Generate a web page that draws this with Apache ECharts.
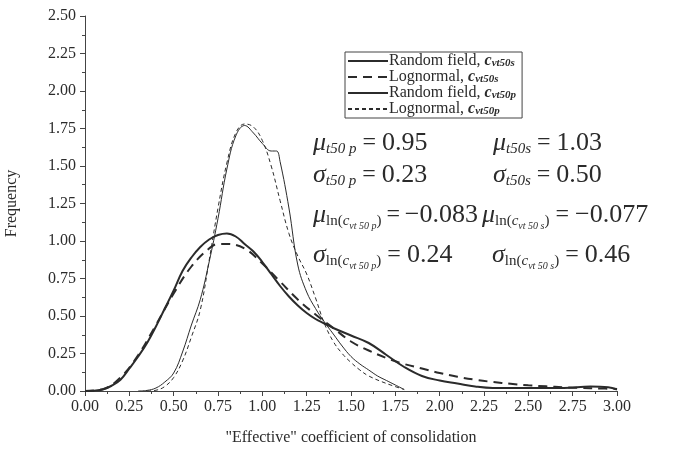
<!DOCTYPE html>
<html>
<head>
<meta charset="utf-8">
<script src="https://cdn.jsdelivr.net/npm/echarts@6/dist/echarts.min.js"></script>
<style>
  html, body { margin: 0; padding: 0; background: #fff; }
  #main { width: 673px; height: 452px; }
</style>
</head>
<body>
<div id="main"></div>
<script>
// values, [x, frequency]
var rfS = [[0, 0], [0.05, 0.002], [0.1, 0.01], [0.15, 0.035], [0.2, 0.075], [0.25, 0.15], [0.3, 0.23],
    [0.35, 0.32], [0.4, 0.43], [0.45, 0.55], [0.5, 0.67], [0.55, 0.8], [0.6, 0.89], [0.65, 0.96],
    [0.7, 1.01], [0.75, 1.04], [0.8, 1.05], [0.85, 1.03], [0.9, 0.98], [0.95, 0.93], [1.0, 0.86],
    [1.05, 0.78], [1.1, 0.7], [1.15, 0.63], [1.2, 0.57], [1.25, 0.52], [1.3, 0.48], [1.35, 0.45],
    [1.4, 0.42], [1.5, 0.37], [1.6, 0.32], [1.7, 0.24], [1.8, 0.16], [1.9, 0.1], [2.0, 0.07],
    [2.1, 0.05], [2.2, 0.03], [2.3, 0.02], [2.5, 0.02], [2.7, 0.02], [2.85, 0.03], [2.95, 0.025], [3.0, 0.01]];
var lnS = [[0, 0], [0.1, 0.012], [0.2, 0.09], [0.3, 0.24], [0.4, 0.44], [0.5, 0.65], [0.6, 0.83],
    [0.7, 0.95], [0.75, 0.98], [0.8, 0.98], [0.9, 0.95], [1.0, 0.85], [1.1, 0.73], [1.2, 0.61],
    [1.3, 0.51], [1.4, 0.42], [1.5, 0.33], [1.6, 0.27], [1.7, 0.22], [1.8, 0.18], [1.9, 0.15],
    [2.0, 0.12], [2.1, 0.095], [2.2, 0.075], [2.3, 0.06], [2.4, 0.048], [2.5, 0.038], [2.6, 0.031],
    [2.7, 0.025], [2.8, 0.02], [2.9, 0.017], [3.0, 0.014]];
var rfP = [[0.3, 0], [0.35, 0.004], [0.4, 0.02], [0.45, 0.06], [0.5, 0.12], [0.55, 0.26], [0.6, 0.44],
    [0.65, 0.61], [0.7, 0.86], [0.75, 1.15], [0.8, 1.48], [0.85, 1.7], [0.9, 1.77], [0.95, 1.72],
    [1.0, 1.65], [1.05, 1.6], [1.08, 1.6], [1.1, 1.53], [1.15, 1.22], [1.2, 0.84], [1.25, 0.66],
    [1.3, 0.55], [1.35, 0.46], [1.4, 0.38], [1.45, 0.3], [1.5, 0.23], [1.55, 0.18], [1.6, 0.14],
    [1.65, 0.1], [1.7, 0.07], [1.75, 0.04], [1.8, 0.01]];
var lnP = [[0.35, 0], [0.4, 0.005], [0.45, 0.03], [0.5, 0.09], [0.55, 0.2], [0.6, 0.36], [0.65, 0.54],
    [0.7, 0.87], [0.75, 1.22], [0.8, 1.52], [0.85, 1.72], [0.9, 1.78], [0.95, 1.76], [1.0, 1.67],
    [1.05, 1.5], [1.1, 1.27], [1.15, 1.05], [1.2, 0.9], [1.25, 0.78], [1.3, 0.62], [1.35, 0.45],
    [1.4, 0.33], [1.45, 0.25], [1.5, 0.19], [1.55, 0.14], [1.6, 0.1], [1.7, 0.05], [1.8, 0.01]];

var seriesNames = ['rfS', 'lnS', 'rfP', 'lnP'];
var legendLabels = {
    rfS: ['Random field, ', 'vt50s'],
    lnS: ['Lognormal, ', 'vt50s'],
    rfP: ['Random field, ', 'vt50p'],
    lnP: ['Lognormal, ', 'vt50p']
};

var serif = 'Liberation Serif';
var ink = '#2b2b2b';

var chart = echarts.init(document.getElementById('main'));

function lineSeries(name, data, width, dash) {
    return {
        name: name,
        type: 'line',
        data: data,
        smooth: 0.4,
        showSymbol: false,
        symbol: 'none',
        lineStyle: { color: ink, width: width, type: dash },
        itemStyle: { color: ink }
    };
}

var mainRich = {
    g: { fontFamily: serif, fontStyle: 'italic', fontSize: 26, color: ink, lineHeight: 32 },
    s: { fontFamily: serif, fontStyle: 'italic', fontSize: 15, color: ink, lineHeight: 32, verticalAlign: 'bottom', padding: [0, 0, 2, 0] },
    l: { fontFamily: serif, fontSize: 15, color: ink, lineHeight: 32, verticalAlign: 'bottom', padding: [0, 0, 2, 0] },
    ss: { fontFamily: serif, fontStyle: 'italic', fontSize: 10, color: ink, lineHeight: 32, verticalAlign: 'bottom' },
    e: { fontFamily: serif, fontSize: 24, color: ink, lineHeight: 32 },
    m: { fontFamily: serif, fontSize: 26, color: ink, lineHeight: 32 }
};

function formula(x, y, txt) {
    return {
        type: 'text', left: x, top: y, z: 10,
        style: { text: txt, rich: mainRich, fill: ink }
    };
}

chart.setOption({
    backgroundColor: '#fff',
    animation: false,
    grid: { left: 85, right: 56, top: 16, bottom: 61, outerBoundsMode: 'none', containLabel: false },
    legend: {
        orient: 'vertical',
        left: 345,
        top: 52,
        data: seriesNames,
        icon: 'inherit',
        itemStyle: { opacity: 0 },
        itemWidth: 40,
        itemHeight: 10,
        itemGap: 0,
        padding: [1, 6, 1, 2],
        borderColor: '#444',
        borderWidth: 1,
        borderRadius: 0,
        formatter: function (name) {
            var l = legendLabels[name];
            return '{n|' + l[0] + '}{c|c}{v|' + l[1] + '}';
        },
        textStyle: {
            padding: [0, 0, 0, -4],
            rich: {
                n: { fontFamily: serif, fontSize: 16, color: ink, lineHeight: 15.5 },
                c: { fontFamily: serif, fontSize: 16, fontStyle: 'italic', fontWeight: 'bold', color: ink, lineHeight: 15.5 },
                v: { fontFamily: serif, fontSize: 11, fontStyle: 'italic', fontWeight: 'bold', color: ink, lineHeight: 15.5, verticalAlign: 'bottom' }
            }
        }
    },
    xAxis: {
        type: 'value',
        min: 0,
        max: 3,
        interval: 0.25,
        name: '"Effective" coefficient of consolidation',
        nameLocation: 'middle',
        nameGap: 39,
        nameTextStyle: { fontFamily: serif, fontSize: 16, color: ink },
        axisLine: { lineStyle: { color: '#444', width: 1 } },
        axisTick: { show: true, length: 5, lineStyle: { color: '#444' } },
        minorTick: { show: true, splitNumber: 2, length: 3, lineStyle: { color: '#444' } },
        splitLine: { show: false },
        axisLabel: {
            fontFamily: serif, fontSize: 16, color: ink, margin: 8,
            formatter: function (v) { return v.toFixed(2); }
        }
    },
    yAxis: {
        type: 'value',
        min: 0,
        max: 2.5,
        interval: 0.25,
        name: 'Frequency',
        nameLocation: 'middle',
        nameGap: 65,
        nameTextStyle: { fontFamily: serif, fontSize: 16, color: ink },
        axisLine: { show: true, lineStyle: { color: '#444', width: 1 } },
        axisTick: { show: true, length: 5, lineStyle: { color: '#444' } },
        minorTick: { show: true, splitNumber: 2, length: 3, lineStyle: { color: '#444' } },
        splitLine: { show: false },
        axisLabel: {
            fontFamily: serif, fontSize: 16, color: ink, margin: 9,
            formatter: function (v) { return v.toFixed(2); }
        }
    },
    graphic: [
        formula(313, 130, '{g|μ}{s|t50 p}{e| = }{m|0.95}'),
        formula(493, 130, '{g|μ}{s|t50s}{e| = }{m|1.03}'),
        formula(313, 162, '{g|σ}{s|t50 p}{e| = }{m|0.23}'),
        formula(493, 162, '{g|σ}{s|t50s}{e| = }{m|0.50}'),
        formula(313, 202, '{g|μ}{l|ln(}{s|c}{ss|vt 50 p}{l|)}{e|\u2009=\u2009}{m|−0.083}'),
        formula(482, 202, '{g|μ}{l|ln(}{s|c}{ss|vt 50 s}{l|)}{e| = }{m|−0.077}'),
        formula(313, 242, '{g|σ}{l|ln(}{s|c}{ss|vt 50 p}{l|)}{e| = }{m|0.24}'),
        formula(492, 242, '{g|σ}{l|ln(}{s|c}{ss|vt 50 s}{l|)}{e| = }{m|0.46}')
    ],
    series: [
        lineSeries('rfS', rfS, 2, 'solid'),
        lineSeries('lnS', lnS, 2, [9, 6]),
        lineSeries('rfP', rfP, 1, 'solid'),
        lineSeries('lnP', lnP, 1, [4, 3])
    ]
});
</script>
</body>
</html>
